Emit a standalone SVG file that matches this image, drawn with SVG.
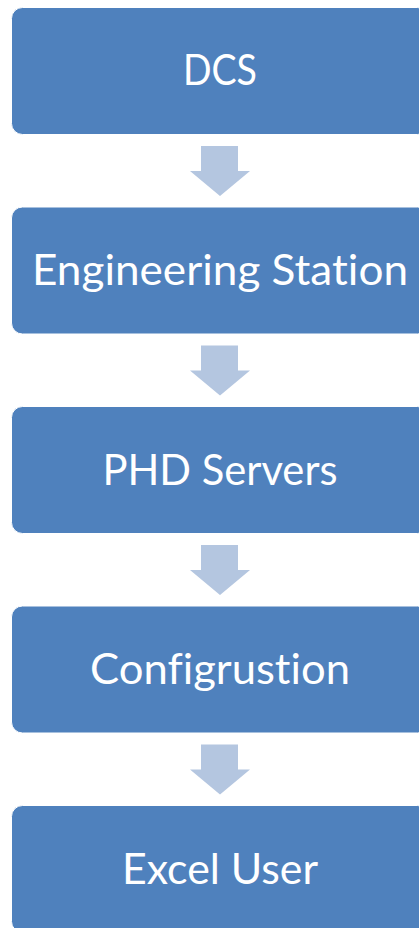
<svg xmlns="http://www.w3.org/2000/svg" width="419" height="928" viewBox="0 0 419 928">
  <style>
    .box { fill: #4F81BD; stroke: #FFFFFF; stroke-width: 1; }
    .label { fill: #FFFFFF; font-family: "Lato", "Open Sans", "Liberation Sans", sans-serif; font-size: 43px; text-anchor: middle; font-variant-ligatures: none; font-feature-settings: "liga" 0, "dlig" 0; }
    .arrow { fill: #B4C6E0; }
  </style>
  <rect width="419" height="928" fill="#FFFFFF"/>

  <g id="connectors">
    <polygon class="arrow" points="201,146 238,146 238,171 250,171 220,196 190,171 201,171"/>
    <polygon class="arrow" points="201,345.5 238,345.5 238,370.5 250,370.5 220,395.5 190,370.5 201,370.5"/>
    <polygon class="arrow" points="201,545 238,545 238,570 250,570 220,595 190,570 201,570"/>
    <polygon class="arrow" points="201,744.5 238,744.5 238,769.5 250,769.5 220,794.5 190,769.5 201,769.5"/>
  </g>

  <g id="dcs">
    <rect class="box" x="11.5" y="7.5" width="417" height="127" rx="11"/>
    <text class="label" x="220" y="85" textLength="74" lengthAdjust="spacingAndGlyphs">DCS</text>
  </g>
  <g id="engineering-station">
    <rect class="box" x="11.5" y="207" width="417" height="127" rx="11"/>
    <text class="label" x="220" y="285" textLength="376" lengthAdjust="spacingAndGlyphs">Engineering Station</text>
  </g>
  <g id="phd-servers">
    <rect class="box" x="11.5" y="406.5" width="417" height="127" rx="11"/>
    <text class="label" x="220" y="484.5" textLength="235" lengthAdjust="spacingAndGlyphs">PHD Servers</text>
  </g>
  <g id="configrustion">
    <rect class="box" x="11.5" y="606" width="417" height="127" rx="11"/>
    <text class="label" x="220" y="684" textLength="260" lengthAdjust="spacingAndGlyphs">Configrustion</text>
  </g>
  <g id="excel-user">
    <rect class="box" x="11.5" y="805.5" width="417" height="127" rx="11"/>
    <text class="label" x="220" y="883.5" textLength="196" lengthAdjust="spacingAndGlyphs">Excel User</text>
  </g>
</svg>
